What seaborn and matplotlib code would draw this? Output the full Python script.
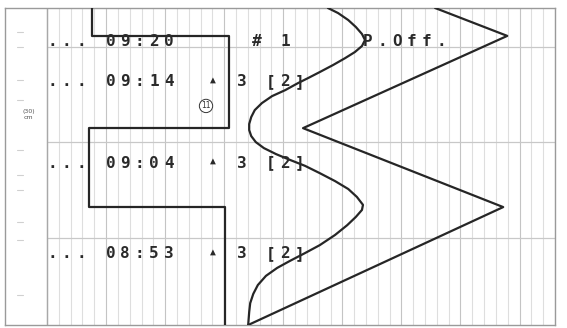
"""
Registro de carta (escaneo): marcador de eventos, curva y zigzag.
"""
import matplotlib
matplotlib.use("Agg")
import matplotlib.pyplot as plt
import numpy as np
import pandas as pd
import seaborn as sns

# datos (x: % del ancho de la carta, y: % del largo, 0 arriba)
evento_x = [8.9, 8.9, 35.8, 35.8, 8.3, 8.3, 35.0, 35.0]
evento_y = [0.0, 8.8, 8.8, 37.9, 37.9, 62.8, 62.8, 100.0]

zigzag_x = [76.4, 90.6, 50.4, 89.8, 39.6]
zigzag_y = [0.0, 8.8, 37.9, 62.8, 100.0]

curva_x = [55.3, 57.3, 59.3, 60.8, 62.0, 62.6, 62.0, 60.6, 58.7, 56.3, 53.7, 51.4, 49.4,
           46.9, 44.3, 42.3, 40.9, 40.2, 39.8, 39.8, 40.2, 41.1, 42.7, 45.1, 47.8, 50.8,
           53.7, 56.7, 59.3, 61.0, 62.2, 62.0, 60.8, 59.1, 56.7, 53.7, 50.8, 47.8, 45.3,
           43.1, 41.5, 40.6, 40.0, 39.8, 39.6]
curva_y = [0.0, 1.6, 3.8, 6.0, 8.2, 10.1, 12.0, 13.9, 15.8, 18.0, 20.2, 22.1, 23.7,
           25.9, 27.8, 30.0, 32.2, 34.4, 36.6, 38.5, 40.4, 42.3, 44.2, 46.1, 47.9, 49.8,
           52.1, 54.6, 57.1, 59.6, 62.1, 63.7, 65.9, 68.5, 71.6, 74.8, 77.3, 79.8, 82.0,
           84.5, 87.4, 90.2, 93.1, 95.9, 100.0]

horas = ["09:20", "09:14", "09:04", "08:53"]
marcas = ["# 1", "▲ 3 [2]", "▲ 3 [2]", "▲ 3 [2]"]
filas_y = [10.7, 23.3, 48.9, 77.6]

sns.set_style("white")

fig = plt.figure(figsize=(5.67, 3.28), dpi=100)
ax = fig.add_axes([5 / 567, 3 / 328, 550 / 567, 317 / 328])
ax.set_xlim(-8.27, 100)
ax.set_ylim(100, 0)
ax.set_xticks([])
ax.set_yticks([])
for s in ax.spines.values():
    s.set_color("#9a9a9a")
    s.set_linewidth(1.0)

# cuadricula del papel
paso = 100 / 43
for i, gx in enumerate(np.arange(0, 100.01, paso)):
    ax.axvline(gx, color="#c4c4c4" if i % 5 == 0 else "#dedede", lw=0.8, zorder=0)
for gy in [12.3, 42.3, 72.6]:
    ax.axhline(gy, xmin=8.27 / 108.27, color="#c8c8c8", lw=0.9, zorder=0)
ax.axvline(0, color="#a8a8a8", lw=1.0, zorder=0)

# marcas del margen izquierdo
for my in [7.5, 12.3, 22.7, 29.0, 44.8, 52.7, 57.4, 67.5, 73.2, 90.5]:
    ax.plot([-6.0, -4.8], [my, my], color="#d0d0d0", lw=0.8)
ax.text(-3.6, 33.6, "(30)\ncm", fontsize=4.5, ha="center", va="center",
        color="#555555", linespacing=1.1)

df_ev = pd.DataFrame({"x": evento_x, "y": evento_y})
df_zz = pd.DataFrame({"x": zigzag_x, "y": zigzag_y})
df_cv = pd.DataFrame({"x": curva_x, "y": curva_y})
for df in (df_ev, df_zz, df_cv):
    sns.lineplot(data=df, x="x", y="y", sort=False, estimator=None, ax=ax,
                 color="#262626", lw=1.6, solid_joinstyle="round", zorder=3)
ax.set_xlabel("")
ax.set_ylabel("")

# textos de la impresora
pitch = 2.87
x0 = 1.0
for hora, marca, fy in zip(horas, marcas, filas_y):
    linea = "... " + hora + ("     " if marca.startswith("#") else "  ") + marca
    for i, ch in enumerate(linea):
        if ch == " ":
            continue
        if ch == "▲":
            ax.text(x0 + i * pitch, fy - 0.8, ch, fontsize=7, ha="center", va="center",
                    color="#2a2a2a", family="DejaVu Sans Mono", zorder=4)
        else:
            ax.text(x0 + i * pitch, fy, ch, fontsize=11.5, ha="center", va="center",
                    color="#2a2a2a", family="DejaVu Sans Mono", fontweight="bold", zorder=4)

for i, ch in enumerate("P.Off."):
    ax.text(63.2 + i * pitch, filas_y[0], ch, fontsize=11.5, ha="center", va="center",
            color="#2a2a2a", family="DejaVu Sans Mono", fontweight="bold", zorder=4)

ax.text(31.3, 30.9, "11", fontsize=5.5, ha="center", va="center", color="#333333",
        bbox=dict(boxstyle="circle,pad=0.25", fc="white", ec="#333333", lw=0.7), zorder=4)

fig.savefig("out.png", dpi=100, facecolor="white")
